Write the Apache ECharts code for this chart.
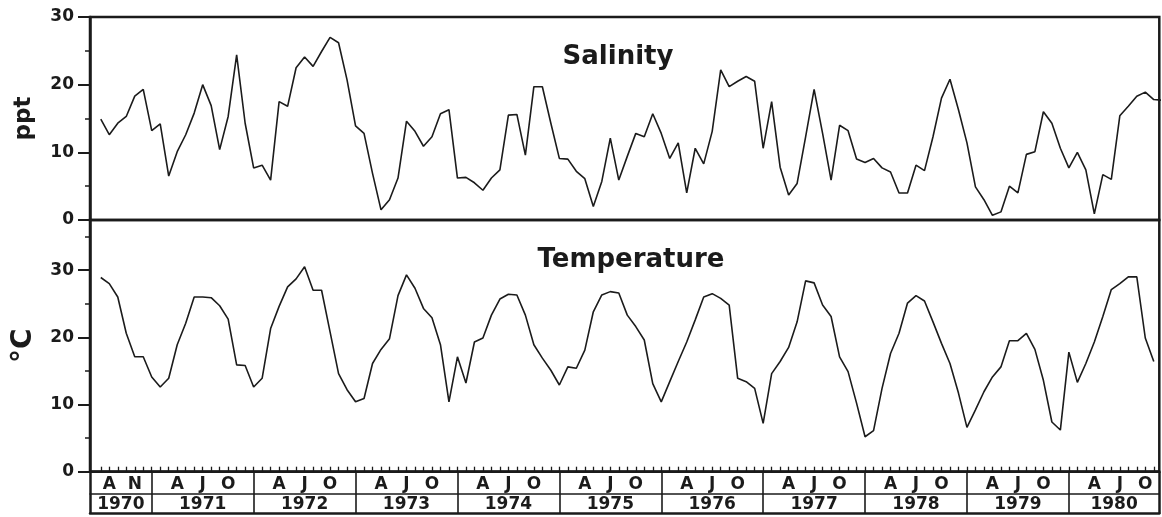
<!DOCTYPE html>
<html><head><meta charset="utf-8">
<script src="https://cdn.jsdelivr.net/npm/echarts@6/dist/echarts.min.js"></script>
<style>html,body{margin:0;padding:0;background:#fff}#c{width:1162px;height:517px}</style>
</head><body><div id="c"></div>
<script>
// months counted from Jan 1970 (0 = Jan 1970); first observation July 1970
const startMonth = 6;
const xMin = 4.73;
const xMax = 130.65;

const salinity = [
  14.9, 12.6, 14.3, 15.3, 18.3, 19.3, 13.2, 14.2, 6.5, 10.1,
  12.6, 15.8, 20.0, 16.9, 10.4, 15.3, 24.4, 14.3, 7.7, 8.1,
  5.9, 17.5, 16.8, 22.5, 24.1, 22.7, 24.9, 27.0, 26.2, 20.7,
  13.9, 12.8, 6.9, 1.5, 3.0, 6.2, 14.6, 13.1, 10.9, 12.3,
  15.7, 16.3, 6.2, 6.3, 5.5, 4.4, 6.2, 7.4, 15.5, 15.6,
  9.6, 19.7, 19.7, 14.3, 9.1, 9.0, 7.2, 6.1, 2.0, 5.7,
  12.1, 5.9, 9.4, 12.8, 12.3, 15.7, 12.8, 9.1, 11.4, 4.0,
  10.6, 8.3, 13.1, 22.2, 19.7, 20.5, 21.2, 20.5, 10.6, 17.5,
  7.8, 3.7, 5.4, 12.3, 19.3, 12.8, 5.9, 14.0, 13.2, 9.0,
  8.5, 9.1, 7.7, 7.1, 4.0, 4.0, 8.1, 7.3, 12.3, 18.0,
  20.8, 16.3, 11.4, 4.9, 3.0, 0.7, 1.2, 5.0, 4.0, 9.7,
  10.1, 16.0, 14.3, 10.6, 7.7, 10.0, 7.4, 0.9, 6.7, 6.0,
  15.4, 16.8, 18.3, 18.9, 17.8, 17.7
];

const temperature = [
  28.9, 28.0, 26.0, 20.6, 17.1, 17.1, 14.1, 12.6, 13.9, 18.9,
  22.1, 26.0, 26.0, 25.9, 24.7, 22.7, 15.9, 15.8, 12.6, 13.9,
  21.3, 24.6, 27.5, 28.7, 30.5, 27.0, 27.0, 20.8, 14.6, 12.2,
  10.4, 10.9, 16.1, 18.2, 19.8, 26.2, 29.3, 27.3, 24.3, 22.9,
  18.9, 10.4, 17.1, 13.2, 19.3, 19.9, 23.3, 25.7, 26.4, 26.3,
  23.3, 18.9, 16.9, 15.1, 12.9, 15.6, 15.4, 18.1, 23.8, 26.3,
  26.8, 26.6, 23.3, 21.6, 19.6, 13.1, 10.4, 13.4, 16.4, 19.3,
  22.6, 26.0, 26.5, 25.8, 24.8, 13.9, 13.4, 12.4, 7.2, 14.6,
  16.4, 18.5, 22.3, 28.4, 28.1, 24.8, 23.1, 17.1, 14.9, 10.2,
  5.2, 6.1, 12.4, 17.6, 20.6, 25.1, 26.2, 25.4, 22.3, 19.1,
  16.1, 11.7, 6.6, 9.2, 11.9, 14.1, 15.6, 19.5, 19.5, 20.6,
  18.2, 13.6, 7.4, 6.2, 17.8, 13.3, 16.1, 19.3, 23.1, 27.1,
  28.0, 29.0, 29.0, 19.9, 16.4
];

const years = ['1970','1971','1972','1973','1974','1975','1976','1977','1978','1979','1980'];
const firstYearLetters = ['A', 'N'];
const firstYearLetterMonths = [7, 10];
const yearLetters = ['A', 'J', 'O'];
const yearLetterOffsets = [3, 6, 9];
const yTicksTop = [0, 10, 20, 30];

const ink = '#1b1b1b';
const font = 'DejaVu Sans';

const salData = salinity.map((v, i) => [startMonth + i, v]);
const tmpData = temperature.map((v, i) => [startMonth + i, v]);

const monthTicks = [];
for (let m = 6; m <= 130; m++) monthTicks.push(m);
const letterPos = [], letterText = [];
firstYearLetters.forEach((t, j) => { letterPos.push(firstYearLetterMonths[j]); letterText.push(t); });
for (let y = 1; y < years.length; y++) {
  yearLetters.forEach((t, j) => { letterPos.push(12 * y + yearLetterOffsets[j]); letterText.push(t); });
}
const key = v => (+v).toFixed(3);
const letterMap = {};
letterPos.forEach((p, i) => { letterMap[key(p)] = letterText[i]; });
const yearPos = years.map((y, k) => k === 0 ? (xMin + 12) / 2 : (k === years.length - 1 ? (12 * k + xMax) / 2 : 12 * k + 6));
const yearMap = {};
yearPos.forEach((p, i) => { yearMap[key(p)] = years[i]; });
const dividers = [];
for (let k = 1; k < years.length; k++) dividers.push(12 * k);

const labelStyle = { fontSize: 17, fontWeight: 'bold', fontFamily: font, color: ink };

const chart = echarts.init(document.getElementById('c'), null, { renderer: 'canvas' });

const baseX = (grid) => ({
  gridIndex: grid, type: 'value', min: xMin, max: xMax, position: 'bottom',
  splitLine: { show: false }
});

chart.setOption({
  animation: false,
  backgroundColor: '#ffffff',
  title: [
    { text: 'Salinity', left: 613, top: 39, textAlign: 'center',
      textStyle: { fontSize: 26, fontWeight: 'bold', fontFamily: font, color: ink } },
    { text: 'Temperature', left: 626, top: 242, textAlign: 'center',
      textStyle: { fontSize: 26, fontWeight: 'bold', fontFamily: font, color: ink } }
  ],
  grid: [
    { left: 90, right: 2.7, top: 17, height: 203, show: true, borderColor: ink, borderWidth: 2.5, outerBoundsMode: 'none' },
    { left: 90, right: 2.7, top: 220, height: 251.7, show: true, borderColor: ink, borderWidth: 2.5, outerBoundsMode: 'none' }
  ],
  xAxis: [
    Object.assign(baseX(0), { show: false }),
    Object.assign(baseX(1), {
      axisLine: { show: true, onZero: false, lineStyle: { color: ink, width: 2.5 } },
      axisTick: { show: true, inside: true, length: 5, customValues: monthTicks, lineStyle: { color: ink, width: 1.3 } },
      axisLabel: Object.assign({ show: true, customValues: letterPos, margin: 4,
        formatter: v => letterMap[key(v)] || '' }, labelStyle)
    }),
    Object.assign(baseX(1), {
      offset: 22,
      axisLine: { show: true, onZero: false, lineStyle: { color: ink, width: 1.6 } },
      axisTick: { show: false },
      axisLabel: Object.assign({ show: true, customValues: yearPos, margin: 2,
        formatter: v => yearMap[key(v)] || '' }, labelStyle)
    }),
    Object.assign(baseX(1), {
      offset: 42,
      axisLine: { show: true, onZero: false, lineStyle: { color: ink, width: 2.5 } },
      axisTick: { show: true, inside: true, length: 42, customValues: dividers, lineStyle: { color: ink, width: 1.6 } },
      axisLabel: { show: false }
    }),
    Object.assign(baseX(1), {
      offset: 42,
      axisLine: { show: false, onZero: false },
      axisTick: { show: true, inside: true, length: 42, customValues: [xMin, xMax], lineStyle: { color: ink, width: 2.5 } },
      axisLabel: { show: false }
    })
  ],
  yAxis: [
    {
      gridIndex: 0, type: 'value', position: 'left', min: 0, max: 30, interval: 10,
      axisLine: { show: true, lineStyle: { color: ink, width: 2.5 } },
      axisTick: { show: true, length: 12, lineStyle: { color: ink, width: 2 } },
      minorTick: { show: true, splitNumber: 2, length: 5, lineStyle: { color: ink, width: 1.5 } },
      splitLine: { show: false },
      axisLabel: Object.assign({ margin: 16 }, labelStyle),
      name: 'ppt', nameLocation: 'middle', nameRotate: 90, nameGap: 54,
      nameTextStyle: { fontSize: 23, fontWeight: 'bold', fontFamily: font, color: ink }
    },
    {
      gridIndex: 1, type: 'value', position: 'left', min: 0, max: 37.46, interval: 10,
      axisLine: { show: true, lineStyle: { color: ink, width: 2.5 } },
      axisTick: { show: true, length: 12, lineStyle: { color: ink, width: 2 } },
      splitLine: { show: false },
      axisLabel: Object.assign({ margin: 16, formatter: v => (yTicksTop.indexOf(v) >= 0 ? String(v) : '') }, labelStyle),
      name: '°C', nameLocation: 'middle', nameRotate: 90, nameGap: 52,
      nameTextStyle: { fontSize: 28, fontWeight: 'bold', fontFamily: font, color: ink }
    },
    {
      gridIndex: 1, type: 'value', position: 'left', offset: 0, min: 0, max: 37.46, interval: 5,
      axisLine: { show: false },
      axisTick: { show: true, length: 5, lineStyle: { color: ink, width: 1.5 } },
      splitLine: { show: false },
      axisLabel: { show: false }
    }
  ],
  series: [
    { type: 'line', name: 'Salinity', xAxisIndex: 0, yAxisIndex: 0, data: salData,
      symbol: 'none', clip: true, lineStyle: { color: ink, width: 1.6 } },
    { type: 'line', name: 'Temperature', xAxisIndex: 1, yAxisIndex: 1, data: tmpData,
      symbol: 'none', clip: true, lineStyle: { color: ink, width: 1.6 } }
  ]
});
</script>
</body></html>
